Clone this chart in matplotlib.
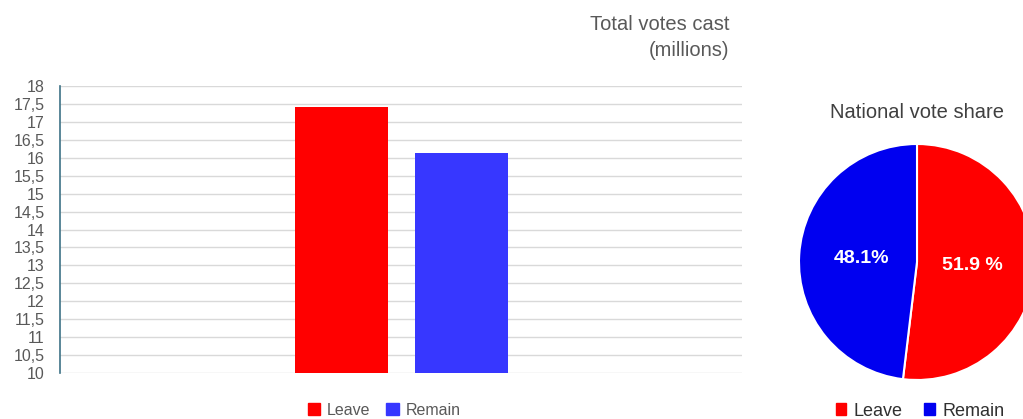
import numpy as np
import matplotlib.pyplot as plt
from matplotlib.patches import Patch

plt.rcParams['font.family'] = ['Liberation Sans', 'DejaVu Sans']

# Total votes cast (millions)
categories = ["Leave", "Remain"]
votes = [17.41, 16.14]
bar_colors = ["#ff0000", "#3737ff"]

# National vote share (%)
share_labels = ["Leave", "Remain"]
shares = [51.9, 48.1]
share_text = ["51.9 %", "48.1%"]
pie_colors = ["#ff0000", "#0000f0"]

yticks = [10 + 0.5 * i for i in range(17)]
ytick_labels = [("%g" % t).replace(".", ",") for t in yticks]

grey = "#595959"

fig = plt.figure(figsize=(10.23, 4.19), dpi=100)

# bar chart
ax = fig.add_axes([60 / 1023, 1 - 373 / 419, 682 / 1023, 287 / 419])
ax.bar([0, 1], [v - 10 for v in votes], bottom=10, width=0.775, color=bar_colors, zorder=3)
ax.set_xlim(-2.346, 3.342)
ax.set_ylim(10, 18)
ax.set_yticks(yticks)
ax.set_yticklabels(ytick_labels, fontsize=11.5, color=grey)
ax.tick_params(axis='y', length=0, pad=11)
ax.set_xticks([])
ax.grid(axis='y', color='#d9d9d9', linewidth=1, zorder=0)
for s in ['top', 'right', 'bottom']:
    ax.spines[s].set_visible(False)
ax.spines['left'].set_color('#3d7286')
ax.spines['left'].set_linewidth(1.2)

fig.text(729 / 1023, 1 - 24 / 419, "Total votes cast", ha='right', va='center',
         fontsize=14.5, color=grey)
fig.text(729 / 1023, 1 - 51 / 419, "(millions)", ha='right', va='center',
         fontsize=14.5, color=grey)

handles = [Patch(color=c, label=l) for c, l in zip(bar_colors, categories)]
fig.legend(handles=handles, loc='center', bbox_to_anchor=(384 / 1023, 1 - 410 / 419),
           ncol=2, frameon=False, fontsize=11.5, handlelength=0.8, handleheight=0.8,
           columnspacing=1.0, handletextpad=0.4, labelcolor=grey)

# pie chart
r = 118
cx, cy = 917, 262
pax = fig.add_axes([(cx - r) / 1023, 1 - (cy + r) / 419, 2 * r / 1023, 2 * r / 419])
wedges, _ = pax.pie(shares, colors=pie_colors, startangle=90, counterclock=False,
                    wedgeprops=dict(edgecolor='white', linewidth=1.5), radius=1)
for w, t in zip(wedges, share_text):
    ang = np.deg2rad((w.theta1 + w.theta2) / 2)
    pax.text(0.47 * np.cos(ang), 0.47 * np.sin(ang), t, ha='center', va='center',
             color='white', fontsize=14, fontweight='bold')
pax.set_xlim(-1, 1)
pax.set_ylim(-1, 1)
pax.set_aspect('equal')

fig.text(917 / 1023, 1 - 113 / 419, "National vote share", ha='center', va='center',
         fontsize=14.5, color='#404040')
handles2 = [Patch(color=c, label=l) for c, l in zip(pie_colors, share_labels)]
fig.legend(handles=handles2, loc='center', bbox_to_anchor=(920 / 1023, 1 - 411 / 419),
           ncol=2, frameon=False, fontsize=13, handlelength=0.6, handleheight=0.6,
           columnspacing=1.2, handletextpad=0.4, labelcolor='#303030')

fig.savefig("out.png", dpi=100)
